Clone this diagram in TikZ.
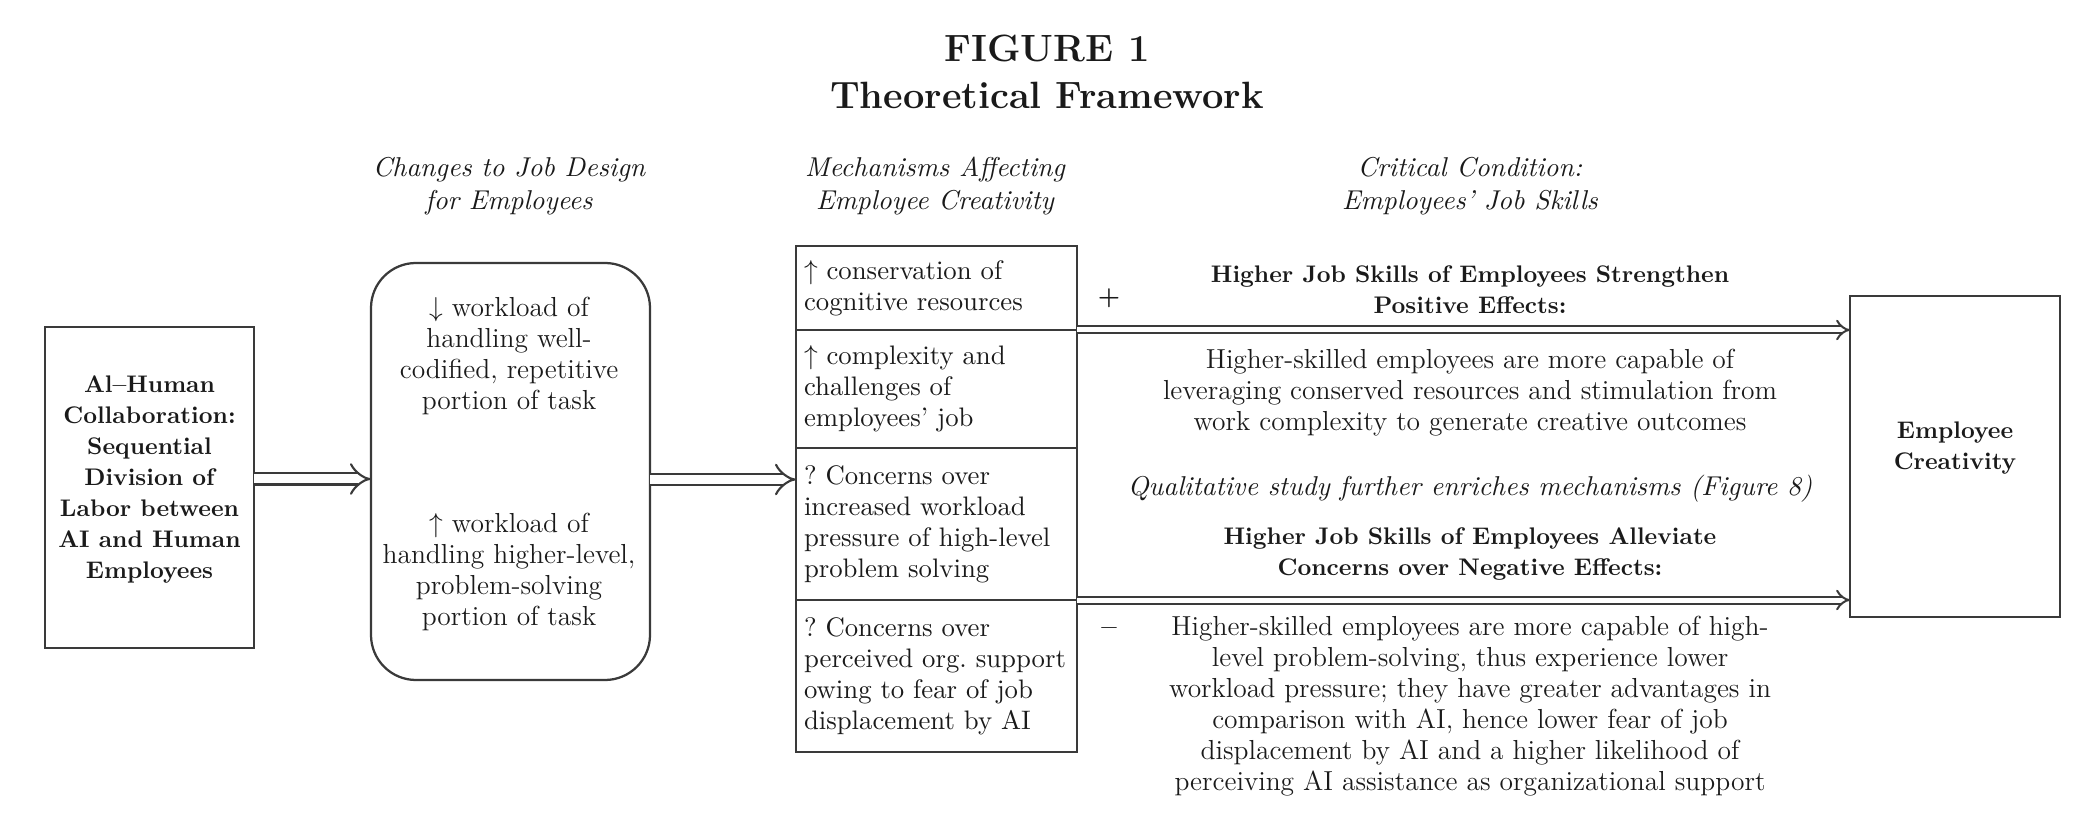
\documentclass[tikz,border=0pt]{standalone}
\usepackage{xcolor}
\usepackage{tikz}
\usetikzlibrary{positioning, arrows.meta, calc}
\definecolor{linegray}{HTML}{3A3A3A}
\definecolor{inkdark}{HTML}{1A1A1A}
\frenchspacing

\begin{document}
\begin{tikzpicture}[x=0.4pt, y=-0.4pt,
    every node/.style={text=inkdark},
    txt/.style={font=\fontsize{11}{12.4}\selectfont, align=center},
    boldtxt/.style={font=\bfseries\fontsize{9.6}{12.4}\selectfont, align=center},
    header/.style={font=\itshape\fontsize{10.9}{13.2}\selectfont, align=center},
    box/.style={draw=linegray, line width=0.9pt, outer sep=0pt},
    mechbox/.style={box, font=\fontsize{10.7}{12.4}\selectfont, text width=106pt, inner xsep=3.2pt, align=left},
    fatarrow/.style={draw=linegray, line width=0.85pt, double, double distance=3.6pt, -{Implies}},
    longarrow/.style={draw=linegray, line width=0.8pt, double, double distance=2pt, -{Implies}}]
  \useasboundingbox (0,0) rectangle (2100,837);

  % title and column heads
  \node[font=\bfseries\fontsize{15.2}{18.8}\selectfont, align=center] (title) at (1047,72) {FIGURE 1\\Theoretical Framework};
  \node[header] (headJob) at (509,186) {Changes to Job Design\\for Employees};
  \node[header] (headMech) at (935,186) {Mechanisms Affecting\\Employee Creativity};
  \node[header] (headCond) at (1470,186) {Critical Condition:\\Employees' Job Skills};

  % left boxes
  \node[box, minimum width=83.6pt, minimum height=128.4pt] (ai) at (149.5,487.5) {};
  \node[boldtxt] (aiText) at (149.5,480) {Al--Human\\Collaboration:\\Sequential\\Division of\\Labor between\\AI and Human\\Employees};

  \node[box, rounded corners=18pt, minimum width=111.6pt, minimum height=166.8pt] (job) at (510.5,471.5) {};
  \node[txt] (jobDown) at (509,355.5) {$\downarrow$ workload of\\handling well-\\codified, repetitive\\portion of task};
  \node[txt] (jobUp) at (509,571.5) {$\uparrow$ workload of\\handling higher-level,\\problem-solving\\portion of task};

  % mechanisms
  \node[mechbox, minimum height=33.6pt, anchor=north west] (m1) at (796,246) {$\uparrow$ conservation of\\cognitive resources};
  \node[mechbox, minimum height=47.2pt, below=0pt of m1] (m2) {$\uparrow$ complexity and\\challenges of\\employees' job};
  \node[mechbox, minimum height=60.8pt, below=0pt of m2] (m3) {? Concerns over\\increased workload\\pressure of high-level\\problem solving};
  \node[mechbox, minimum height=60.8pt, below=0pt of m3] (m4) {? Concerns over\\perceived org. support\\owing to fear of job\\displacement by AI};

  % outcome
  \node[box, minimum width=84pt, minimum height=128.4pt] (cre) at (1955,456.5) {};
  \node[boldtxt] (creText) at (1955,448) {Employee\\Creativity};

  % connectors
  \coordinate (aiOut) at ([yshift=3.4pt]ai.east);
  \draw[fatarrow] (aiOut) -- (aiOut -| job.west);
  \coordinate (jobOut) at ([yshift=-3.2pt]job.east);
  \draw[fatarrow] (jobOut) -- (jobOut -| m3.west);
  \draw[longarrow] (m1.south east) -- (m1.south east -| cre.west);
  \draw[longarrow] (m3.south east) -- (m3.south east -| cre.west);

  % moderating condition
  \node[font=\bfseries\fontsize{10}{12}\selectfont] (plus) at (1109,298) {+};
  \node[font=\bfseries\fontsize{11}{12}\selectfont] (minus) at (1109,632) {--};
  \node[boldtxt] (posHead) at (1470,289.5) {Higher Job Skills of Employees Strengthen\\Positive Effects:};
  \node[txt] (posText) at (1470,392.5) {Higher-skilled employees are more capable of\\leveraging conserved resources and stimulation from\\work complexity to generate creative outcomes};
  \node[header] (qual) at (1470,489) {Qualitative study further enriches mechanisms (Figure 8)};
  \node[boldtxt] (negHead) at (1470,554.5) {Higher Job Skills of Employees Alleviate\\Concerns over Negative Effects:};
  \node[txt] (negText) at (1470,706.5) {Higher-skilled employees are more capable of high-\\level problem-solving, thus experience lower\\workload pressure; they have greater advantages in\\comparison with AI, hence lower fear of job\\displacement by AI and a higher likelihood of\\perceiving AI assistance as organizational support};
\end{tikzpicture}
\end{document}
